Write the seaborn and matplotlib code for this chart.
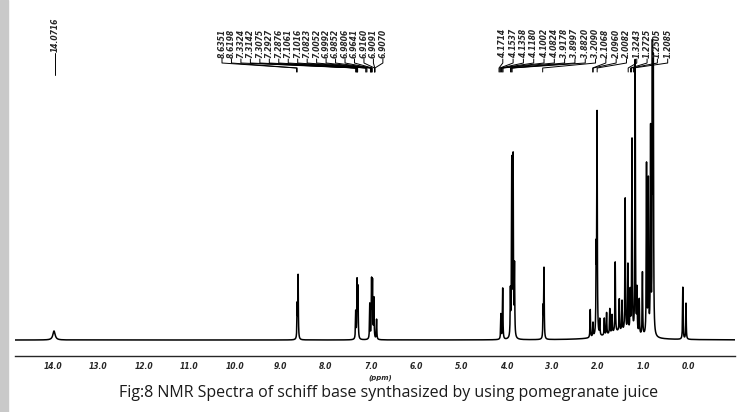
import numpy as np
import pandas as pd
import matplotlib
matplotlib.use("Agg")
import matplotlib.pyplot as plt
import seaborn as sns

# ---- data (ppm, relative height, half-width) ----
peak_ppm = [13.98, 8.62, 8.60, 7.33, 7.30, 7.28, 7.02, 6.98, 6.96, 6.93, 6.87,
            4.13, 4.09, 3.92, 3.89, 3.86, 3.83, 3.20, 3.18,
            2.16, 2.10, 2.03, 2.01, 1.95, 1.85, 1.80, 1.73, 1.68, 1.61, 1.52, 1.46,
            1.39, 1.33, 1.28, 1.24, 1.17, 1.13, 1.08, 1.01, 0.92, 0.88, 0.83,
            0.79, 0.77, 0.12, 0.05, 1.50]
peak_height = [9, 33, 63, 27, 57, 50, 35, 57, 55, 40, 20,
               25, 51, 45, 175, 178, 70, 30, 70,
               28, 14, 80, 220, 16, 17, 22, 25, 18, 70, 32, 30,
               133, 67, 40, 193, 273, 43, 35, 63, 170, 153, 203,
               272, 260, 52, 36, 8]
peak_width = [0.03, 0.006, 0.006, 0.006, 0.006, 0.006, 0.006, 0.006, 0.006, 0.006, 0.006,
              0.006, 0.006, 0.006, 0.006, 0.006, 0.006, 0.006, 0.006,
              0.006, 0.006, 0.006, 0.006, 0.006, 0.006, 0.006, 0.006, 0.006, 0.006, 0.006, 0.006,
              0.006, 0.006, 0.006, 0.006, 0.006, 0.006, 0.006, 0.006, 0.006, 0.006, 0.006,
              0.006, 0.006, 0.006, 0.006, 0.35]

label_group1 = ["8.6351", "8.6198", "7.3324", "7.3142", "7.3075", "7.2927", "7.2876",
                "7.1061", "7.1016", "7.0823", "7.0052", "6.9992", "6.9852", "6.9806",
                "6.9641", "6.9160", "6.9091", "6.9070"]
label_group2 = ["4.1714", "4.1537", "4.1358", "4.1180", "4.1002", "4.0824", "3.9178",
                "3.8997", "3.8820", "3.2090", "2.1068", "2.0960", "2.0082", "1.3243",
                "1.2725", "1.2505", "1.2085"]
label_single = "14.0716"
tick_values = [14, 13, 12, 11, 10, 9, 8, 7, 6, 5, 4, 3, 2, 1, 0]
caption = "Fig:8 NMR Spectra of schiff base synthasized by using pomegranate juice"

# ---- build spectrum from the peak list ----
x_left, x_right = 14.84, -1.03
ppm = np.arange(x_right, x_left, 0.001)
inten = np.zeros_like(ppm)
for p, h, w in zip(peak_ppm, peak_height, peak_width):
    inten += h * w**2 / ((ppm - p) ** 2 + w**2)
df = pd.DataFrame({"ppm": ppm, "intensity": inten})

sns.set_style("white")
plt.rcParams["font.family"] = ["DejaVu Sans"]

W, H = 737, 412
fig = plt.figure(figsize=(W / 100, H / 100), dpi=100)
# axes: x 15..735 px, y from 20 px (top) to 356 px (ruler)
ax = fig.add_axes([15 / W, (H - 356) / H, 720 / W, 336 / H])
sns.lineplot(data=df, x="ppm", y="intensity", ax=ax, color="black",
             linewidth=1.1, estimator=None, sort=False)
ax.set_xlim(x_left, x_right)
ax.set_ylim(-16, 320)
ax.set_xlabel("")
ax.set_ylabel("")
ax.set_yticks([])
for s in ["top", "left", "right"]:
    ax.spines[s].set_visible(False)
ax.spines["bottom"].set_linewidth(1.0)
ax.set_xticks(tick_values)
ax.set_xticklabels([f"{v:.1f}" for v in tick_values], fontsize=5.5,
                   fontstyle="italic", fontweight="bold")
ax.set_xticks(np.arange(-1.0, 14.85, 0.1), minor=True)
ax.tick_params(axis="x", which="major", direction="in", length=4, width=0.8, pad=4)
ax.tick_params(axis="x", which="minor", direction="in", length=2, width=0.6)
ax.set_facecolor("none")


def px2ppm(px):
    return 14 - (px - 53) / 45.4


def py2y(py):
    return 340 - py


def draw_group(labels, px0, px1):
    n = len(labels)
    xs = np.linspace(px0, px1, n)
    for lab, xp in zip(labels, xs):
        lx = px2ppm(xp)
        target = float(lab)
        ax.text(lx, py2y(58), lab, rotation=90, ha="center", va="bottom",
                fontsize=5.5, fontstyle="italic", fontweight="bold")
        ax.plot([lx, lx, target, target],
                [py2y(59), py2y(63), py2y(68), py2y(72)],
                color="black", linewidth=0.7)


draw_group(label_group1, 222, 383)
draw_group(label_group2, 503, 668)
ax.text(px2ppm(55), py2y(52), label_single, rotation=90, ha="center",
        va="bottom", fontsize=5.5, fontstyle="italic", fontweight="bold")
ax.plot([px2ppm(55), px2ppm(55)], [py2y(53), py2y(75)], color="black",
        linewidth=0.7)

fig.text(380 / W, 1 - 378 / H, "(ppm)", fontsize=5, fontstyle="italic",
         fontweight="bold", ha="center", va="center")
fig.text(389 / W, 1 - 393 / H, caption, fontsize=11.5, ha="center",
         va="center", family=["Open Sans", "DejaVu Sans"], color="#1a1a1a")

# gray page margin bar on the left
fig.patches.append(matplotlib.patches.Rectangle((0, 0), 8 / W, 1,
                   transform=fig.transFigure, color="#c9c9c9", zorder=0))

fig.savefig("out.png", dpi=100)
